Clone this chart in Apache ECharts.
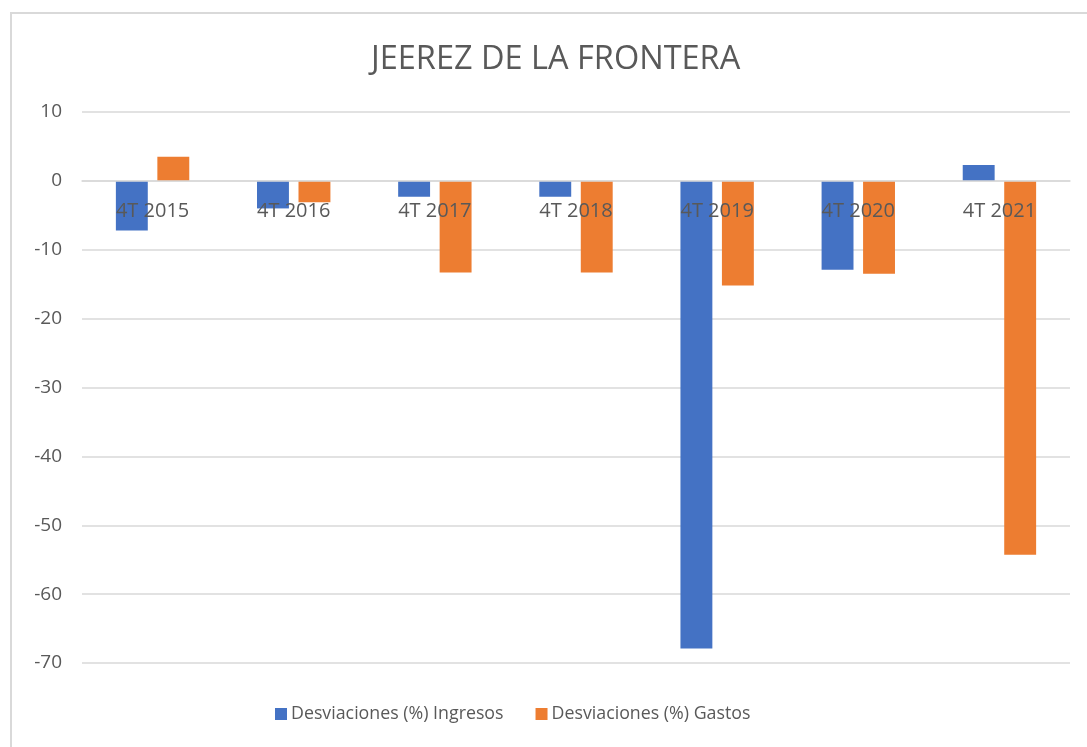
<!DOCTYPE html>
<html>
<head>
<meta charset="utf-8">
<script src="https://cdn.jsdelivr.net/npm/echarts@6/dist/echarts.min.js"></script>
<style>
  html, body { margin: 0; padding: 0; background: #ffffff; }
  #chart { width: 1087px; height: 747px; }
</style>
</head>
<body>
<div id="chart"></div>
<script>
// Quarterly budget deviations (%) for Jerez de la Frontera
const categories = ['4T 2015', '4T 2016', '4T 2017', '4T 2018', '4T 2019', '4T 2020', '4T 2021'];
const ingresos = [-7.2, -4.0, -2.3, -2.3, -67.9, -12.9, 2.3];
const gastos = [3.5, -3.1, -13.3, -13.3, -15.2, -13.5, -54.3];
const seriesNames = ['Desviaciones (%) Ingresos', 'Desviaciones (%) Gastos'];
const titleText = 'JEEREZ DE LA FRONTERA';

const FONT = '"Open Sans", "Noto Sans", sans-serif';
const TEXT = '#595959';
const GRID = '#d9d9d9';

const Y_MIN = -70, Y_MAX = 10;
const GRID_TOP = 112, GRID_BOTTOM = 84, CHART_H = 747;

// category labels sit just under the zero line rather than at the plot bottom
const plotH = CHART_H - GRID_TOP - GRID_BOTTOM;
const zeroFromBottom = plotH * (0 - Y_MIN) / (Y_MAX - Y_MIN);
const labelMargin = 20 - zeroFromBottom;

const chart = echarts.init(document.getElementById('chart'), null, { renderer: 'canvas' });

chart.setOption({
  backgroundColor: '#ffffff',
  animation: false,
  title: {
    text: titleText,
    left: 366,
    top: 38,
    textStyle: { fontFamily: FONT, fontSize: 32.5, fontWeight: 'normal', color: TEXT }
  },
  graphic: [{
    type: 'rect',
    shape: { x: 11, y: 13, width: 1200, height: 900 },
    style: { fill: null, stroke: GRID, lineWidth: 2 },
    silent: true,
    z: -1
  }],
  legend: {
    bottom: 19,
    left: 270,
    itemWidth: 12,
    itemHeight: 12,
    itemGap: 32,
    icon: 'rect',
    textStyle: { fontFamily: FONT, fontSize: 17.8, color: TEXT, padding: [0, 0, 0, -1] },
    data: seriesNames
  },
  grid: { left: 82, right: 17, top: GRID_TOP, bottom: GRID_BOTTOM },
  xAxis: {
    type: 'category',
    data: categories,
    axisLine: { onZero: true, lineStyle: { color: GRID, width: 1.5 } },
    axisTick: { show: false },
    axisLabel: { fontFamily: FONT, fontSize: 20, color: TEXT, margin: labelMargin },
    z: 4
  },
  yAxis: {
    type: 'value',
    min: Y_MIN,
    max: Y_MAX,
    interval: 10,
    axisLine: { show: false },
    axisTick: { show: false },
    splitLine: { lineStyle: { color: GRID, width: 1.5 } },
    axisLabel: { fontFamily: FONT, fontSize: 19, color: TEXT, margin: 20 }
  },
  series: [
    {
      name: seriesNames[0],
      type: 'bar',
      data: ingresos,
      itemStyle: { color: '#4472C4' },
      barGap: '30%',
      barCategoryGap: '48%',
      z: 3
    },
    {
      name: seriesNames[1],
      type: 'bar',
      data: gastos,
      itemStyle: { color: '#ED7D31' },
      z: 3
    }
  ]
});
</script>
</body>
</html>
